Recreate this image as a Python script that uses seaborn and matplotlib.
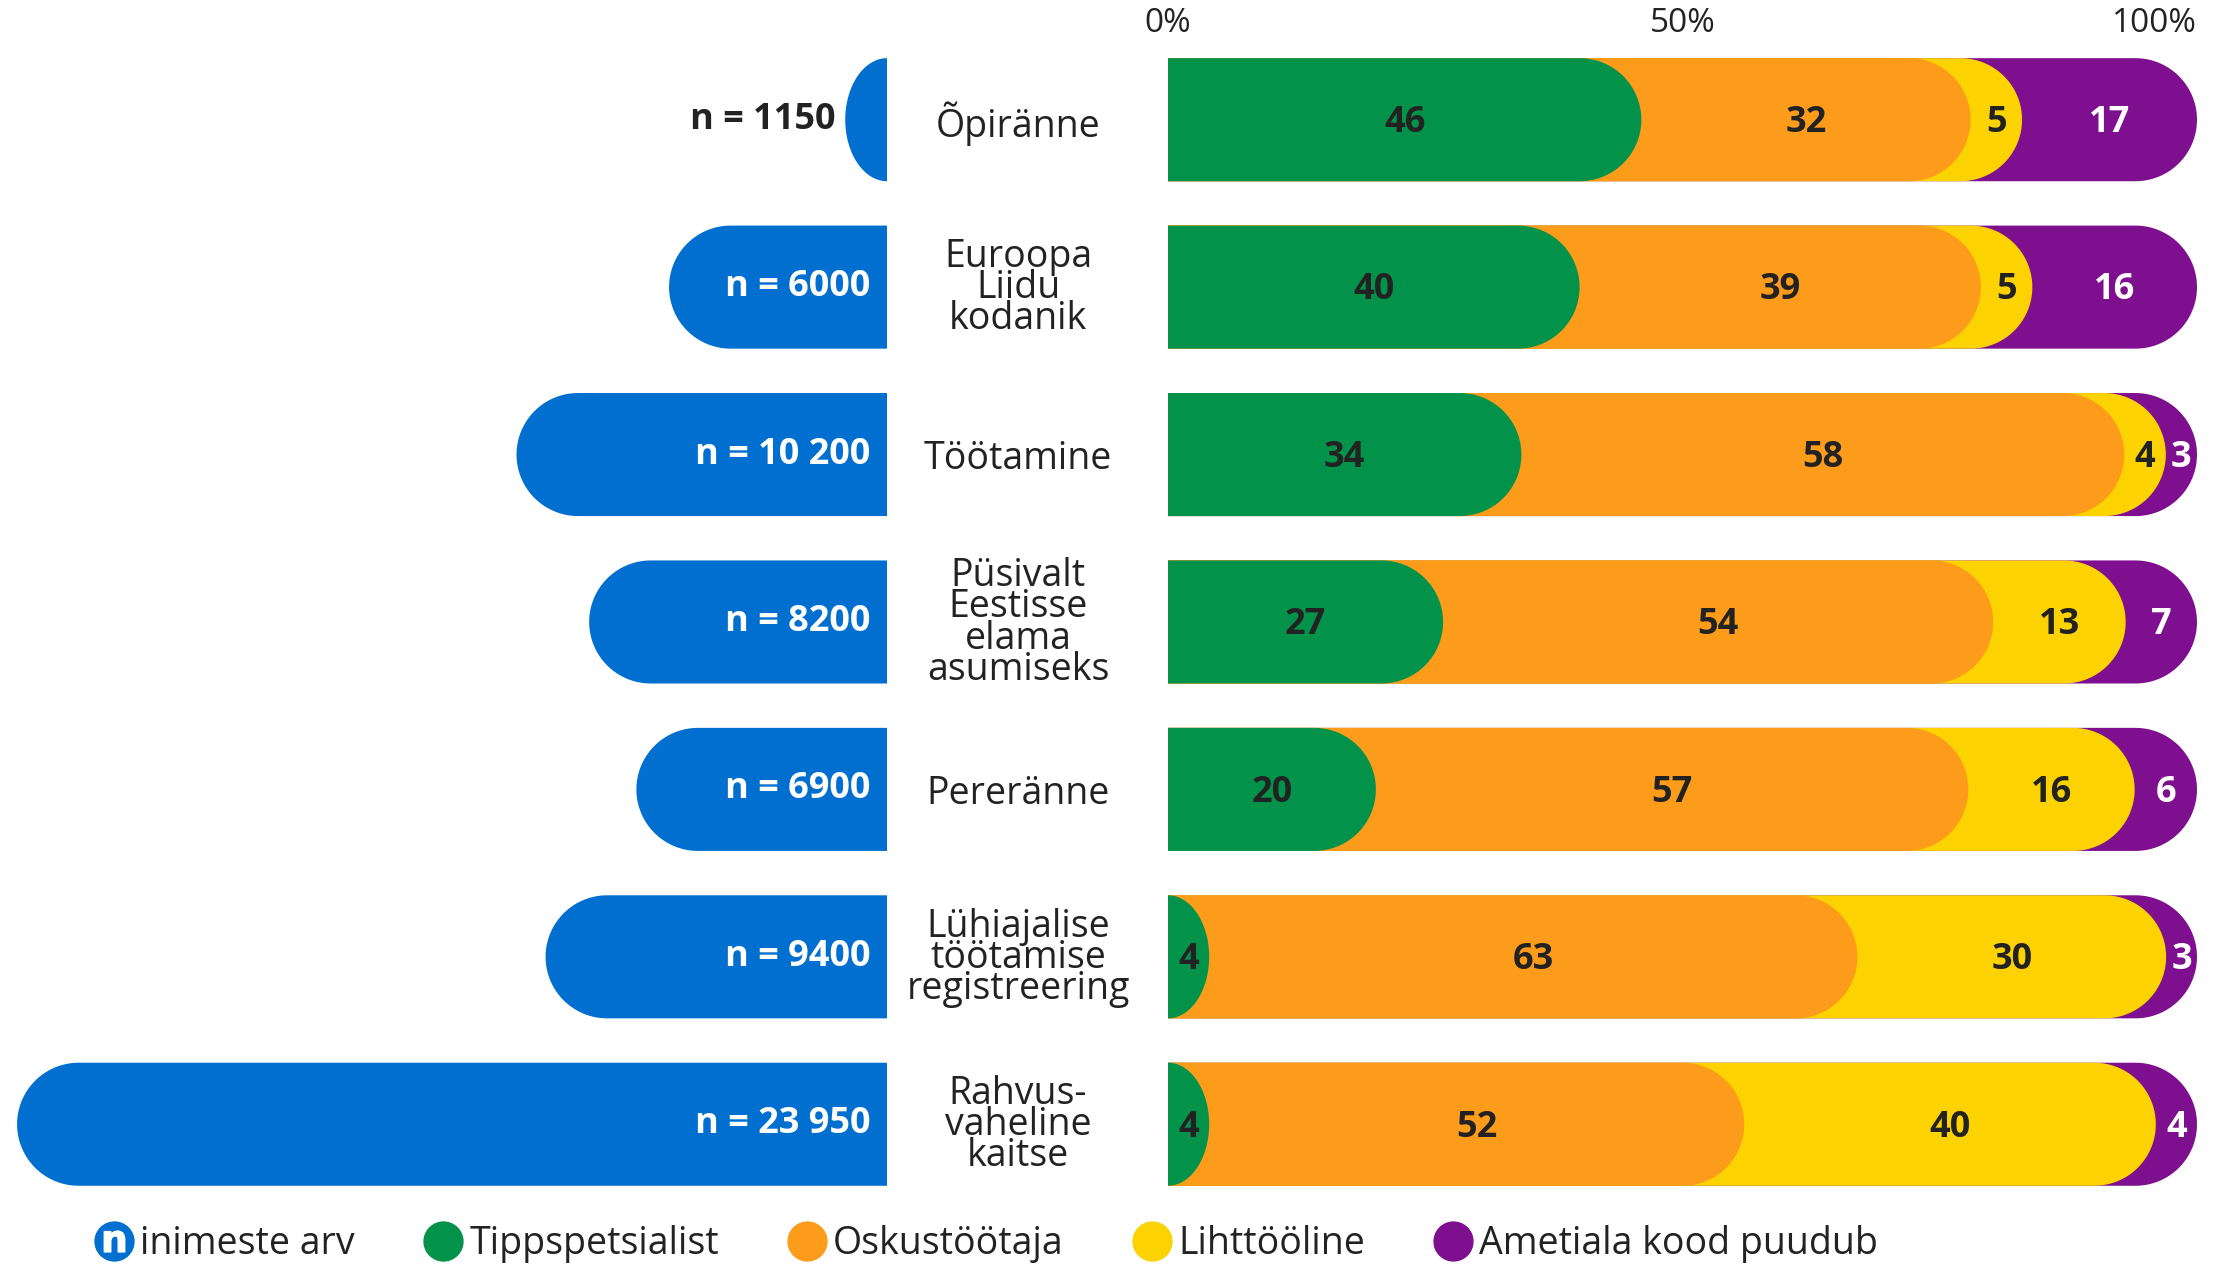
import numpy as np
import pandas as pd
import seaborn as sns
import matplotlib
matplotlib.use("Agg")
from matplotlib import pyplot as plt
from matplotlib.patches import Polygon
from matplotlib.lines import Line2D

# data
categories = ["Õpiränne", "Euroopa\nLiidu\nkodanik", "Töötamine",
              "Püsivalt\nEestisse\nelama\nasumiseks", "Pereränne",
              "Lühiajalise\ntöötamise\nregistreering", "Rahvus-\nvaheline\nkaitse"]
n_people = [1150, 6000, 10200, 8200, 6900, 9400, 23950]

groups = ["Tippspetsialist", "Oskustöötaja", "Lihttööline", "Ametiala kood puudub"]
tipp = [46, 40, 34, 27, 20, 4, 4]
oskus = [32, 39, 58, 54, 57, 63, 52]
liht = [5, 5, 4, 13, 16, 30, 40]
puudub = [17, 16, 3, 7, 6, 3, 4]

blue = "#006fcf"
colors = ["#03924a", "#fd9c1a", "#fcd200", "#7e0f8e"]
dark = "#222222"

sns.set_theme(style="white")
plt.rcParams["font.family"] = ["Open Sans", "DejaVu Sans"]

df = pd.DataFrame({"cat": categories, "n": n_people,
                   groups[0]: tipp, groups[1]: oskus,
                   groups[2]: liht, groups[3]: puudub})
shares = df[groups].to_numpy(dtype=float)
cum = np.cumsum(shares, axis=1) / shares.sum(axis=1, keepdims=True) * 100

W, H = 2219, 1267
fig = plt.figure(figsize=(W / 100, H / 100), dpi=100)
ax1 = fig.add_axes([0, 0.0466, 887 / W, 0.925])
ax2 = fig.add_axes([1168 / W, 0.0466, 1029 / W, 0.925])
bar_w = 0.735


def round_patches(ax, patches, color, z):
    # turn seaborn's rectangles into bars with a round far end
    pos = ax.get_position()
    x0, x1 = ax.get_xlim()
    px_w = pos.width * W
    px_h = pos.height * H
    row_px = px_h / len(categories)
    r = (bar_w * row_px / 2) * abs(x1 - x0) / px_w
    t = np.linspace(-np.pi / 2, np.pi / 2, 60)
    for p in patches:
        a = p.get_x()
        L = p.get_width()
        yc = p.get_y() + p.get_height() / 2
        hh = p.get_height() / 2
        rc = min(r, L)
        xs = (a + L - rc) + rc * np.cos(t)
        ys = yc + hh * np.sin(t)
        verts = [(a, yc - hh)] + list(zip(xs, ys)) + [(a, yc + hh)]
        p.remove()
        ax.add_patch(Polygon(verts, closed=True, facecolor=color,
                             edgecolor="none", zorder=z))


# left: number of people
before = len(ax1.patches)
sns.barplot(x=df["n"], y=df["cat"], orient="h", color=blue, width=bar_w,
            ax=ax1, saturation=1)
ax1.set_xlim(24420, 0)
ax1.set_ylim(len(categories) - 0.5, -0.5)
round_patches(ax1, list(ax1.patches[before:]), blue, 2)

for i, n in enumerate(n_people):
    lab = f"{n:,}".replace(",", " ") if n >= 10000 else str(n)
    lab = "n = " + lab
    if n < 3000:
        ax1.annotate(lab, (n, i), xytext=(-7, 0), textcoords="offset points",
                     ha="right", va="center", fontsize=26, fontweight="bold",
                     color=dark)
    else:
        ax1.annotate(lab, (0, i), xytext=(-12, 0), textcoords="offset points",
                     ha="right", va="center", fontsize=26, fontweight="bold",
                     color="white", zorder=5)
ax1.axis("off")

# right: stacked shares, drawn back to front
for k in range(len(groups) - 1, -1, -1):
    before = len(ax2.patches)
    sns.barplot(x=cum[:, k], y=df["cat"], orient="h", color=colors[k],
                width=bar_w, ax=ax2, saturation=1)
    ax2.set_xlim(0, 100)
    ax2.set_ylim(len(categories) - 0.5, -0.5)
    round_patches(ax2, list(ax2.patches[before:]), colors[k], 10 - k)

for i in range(len(categories)):
    start = 0
    for k in range(len(groups)):
        end = cum[i, k]
        ax2.text((start + end) / 2, i + 0.02, f"{shares[i, k]:.0f}",
                 ha="center", va="center", fontsize=26, fontweight="bold",
                 color="white" if k == 3 else dark, zorder=20)
        start = end

for s in ax2.spines.values():
    s.set_visible(False)
ax2.set_xlabel("")
ax2.set_ylabel("")
ax2.xaxis.tick_top()
ax2.set_xticks([0, 50, 100])
ax2.set_xticklabels(["0%", "50%", "100%"], fontsize=24, color=dark)
xt = ax2.get_xticklabels()
xt[2].set_horizontalalignment("right")
ax2.tick_params(axis="x", length=0, pad=-3)
ax2.set_yticks(range(len(categories)))
ax2.set_yticklabels(categories, fontsize=27, color=dark)
for t in ax2.get_yticklabels():
    t.set_horizontalalignment("center")
    t.set_multialignment("center")
    t.set_linespacing(0.76)
ax2.tick_params(axis="y", length=0, pad=108)

# legend
handles = [(Line2D([], [], marker="o", ls="", color=blue, markersize=28),
            Line2D([], [], marker=r"$\mathbf{n}$", ls="", color="white",
                   markersize=15))]
handles += [Line2D([], [], marker="o", ls="", color=c, markersize=28)
            for c in colors]
fig.legend(handles, ["inimeste arv"] + groups, loc="center left",
           bbox_to_anchor=(0.026, 0.018), ncol=5, frameon=False, fontsize=27,
           handletextpad=0.1, columnspacing=1.75, handlelength=1.2,
           labelcolor=dark)

fig.savefig("out.png", dpi=100)
